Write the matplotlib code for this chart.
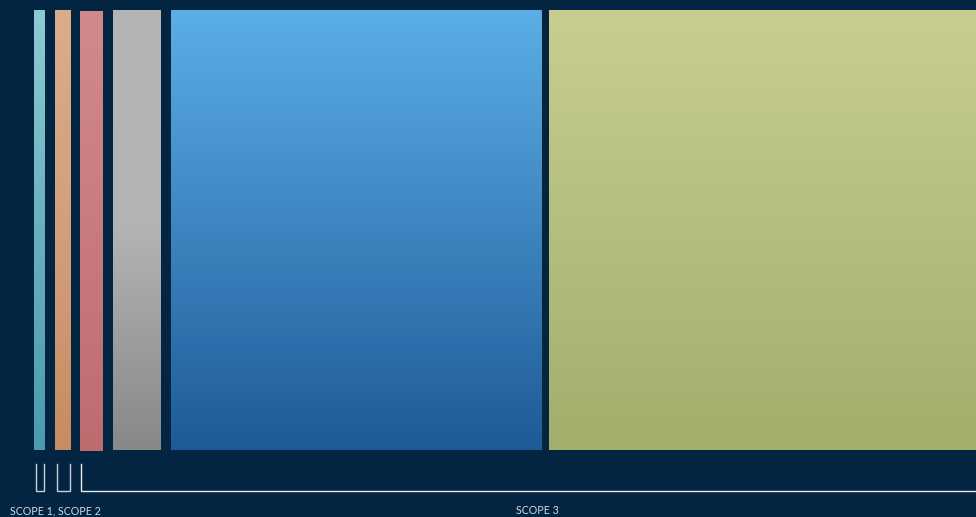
import numpy as np
import matplotlib
matplotlib.use("Agg")
import matplotlib.pyplot as plt
from matplotlib.colors import to_rgb

# ---- data ----
categories = ["Scope 1", "Scope 2", "Scope 3 (a)", "Scope 3 (b)", "Scope 3 (c)", "Scope 3 (d)"]
values = [11, 16, 23, 48, 371, 444]          # relative emissions (bar widths)
groups = ["SCOPE 1, SCOPE 2", "SCOPE 3"]
group_members = [[0, 1], [2, 3, 4, 5]]

# ---- styles ----
bg = "#032541"
gaps = [10, 9, 10, 10, 7]
grad = [
    ("#8DCBD2", "#68B0C0", "#4B9AB0"),
    ("#D9AD8C", "#D29F7B", "#C68C63"),
    ("#D18A8C", "#C97A80", "#BE6B70"),
    ("#B5B5B5", "#B3B3B3", "#888888"),
    ("#5BAEE6", "#3D85C0", "#1D5A98"),
    ("#C8CE91", "#B4BE7E", "#A3AE6D"),
]
offsets = [0, 0, 1, 0, 0, 0]

W, H = 976, 517
fig = plt.figure(figsize=(W / 100, H / 100), dpi=100, facecolor=bg)
ax = fig.add_axes([0, 0, 1, 1])
ax.set_facecolor(bg)
ax.axis("off")

x0 = 34
top, bottom = 10, 450
starts = []
x = x0
for i, v in enumerate(values):
    starts.append(x)
    c = [np.array(to_rgb(k)) for k in grad[i]]
    n = 200
    t = np.linspace(0, 1, n)[:, None]
    col = np.where(t < 0.5, c[0] + (c[1] - c[0]) * (t / 0.5),
                   c[1] + (c[2] - c[1]) * ((t - 0.5) / 0.5))
    img = col[:, None, :]
    ax.imshow(img, extent=[x, x + v, bottom + offsets[i], top + offsets[i]],
              aspect="auto", interpolation="bilinear", zorder=2)
    if i < len(gaps):
        x += v + gaps[i]

ax.set_xlim(0, W)
ax.set_ylim(H, 0)

# ---- brackets ----
by0, by1 = 464, 491
lc = "#C9D1DA"
for i in group_members[0]:
    xa, xb = starts[i] + 1.5, starts[i] + values[i] - 1.5
    ax.plot([xa, xa, xb, xb], [by0, by1, by1, by0], color=lc, lw=1.0,
            solid_joinstyle="miter", zorder=3)
g2s = starts[group_members[1][0]] + 1
g2e = starts[group_members[1][-1]] + values[group_members[1][-1]]
ax.plot([g2s, g2s, g2e], [by0, by1 - 0.5, by1 - 0.5], color="#E8ECF0", lw=1.0,
        solid_joinstyle="miter", zorder=3, clip_on=True)

# ---- group labels ----
ax.text(10, 514, groups[0], color="#D5DBE2", fontsize=7.7, family="Lato",
        ha="left", va="baseline")
ax.text((g2s + g2e) / 2, 514, groups[1], color="#D5DBE2", fontsize=7.7,
        family="Lato", ha="center", va="baseline")

fig.savefig("out.png", dpi=100, facecolor=bg)
